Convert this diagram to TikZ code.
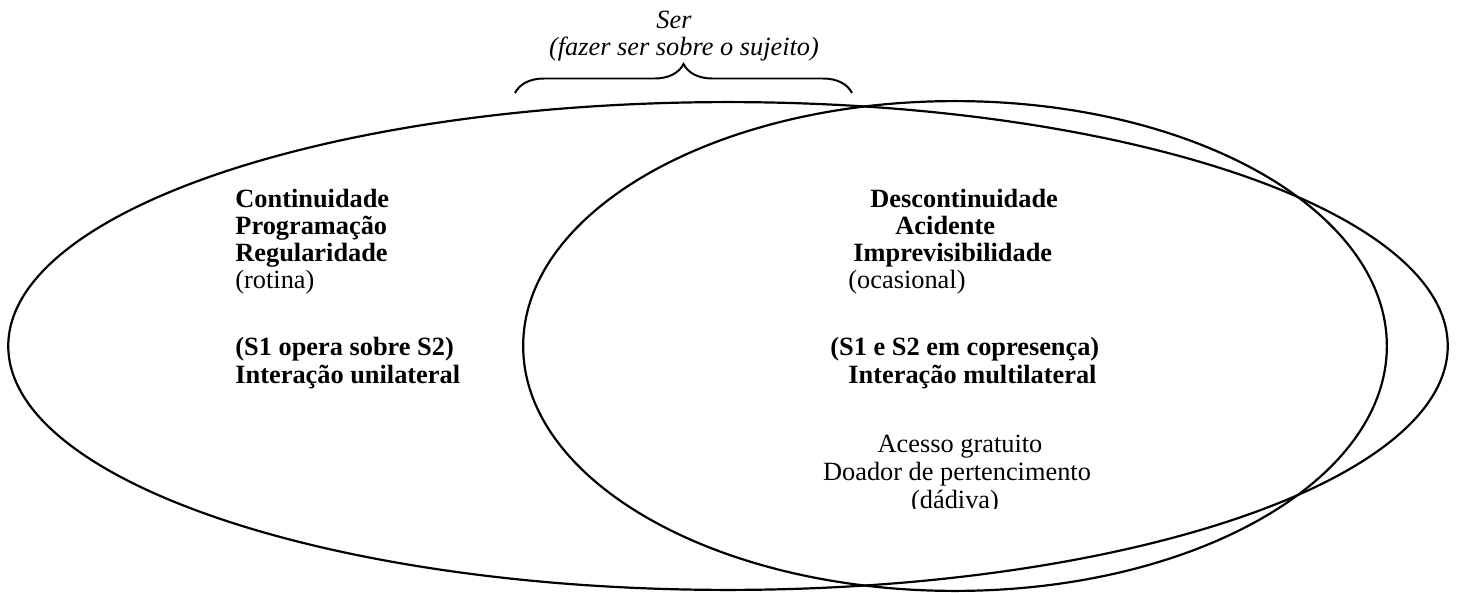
\documentclass[tikz,border=0pt]{standalone}
\usepackage{fontspec}
\setmainfont{Liberation Serif}
\usetikzlibrary{decorations.pathreplacing}

\begin{document}
\begin{tikzpicture}[x=0.016cm, y=-0.016cm,
    ring/.style={draw, line width=1pt},
    keyword/.style={font=\fontsize{12}{13}\selectfont\bfseries, anchor=base west, inner sep=0pt},
    remark/.style={font=\fontsize{12}{13}\selectfont, anchor=base west, inner sep=0pt},
    gift/.style={font=\fontsize{12}{13}\selectfont, anchor=base, inner sep=0pt},
    caption/.style={font=\fontsize{12}{13}\selectfont\itshape, anchor=base, inner sep=0pt},
    bracket/.style={decorate, decoration={brace, amplitude=0.464cm}, line width=0.9pt}
  ]
    \useasboundingbox (0,0) rectangle (1458,593);
    % the two sets
    \draw[ring] (728,346) ellipse [x radius=11.52cm, y radius=3.904cm];
    \draw[ring] (955,346) ellipse [x radius=6.912cm, y radius=3.92cm];
    % brace over the overlap
    \coordinate (bl) at (515,93);
    \coordinate (br) at (852,93);
    \draw[bracket] (bl) -- (br);
    \node[caption] (ser) at (674,29) {Ser};
    \node[caption] (fazer) at (684,56) {(fazer ser sobre o sujeito)};
    % left set
    \node[keyword] (cont) at (235,207) {Continuidade};
    \node[keyword] (prog) at (235,234) {Programação};
    \node[keyword] (regu) at (235,261) {Regularidade};
    \node[remark]  (roti) at (235,288) {(rotina)};
    \node[keyword] (oper) at (235,355) {(S1 opera sobre S2)};
    \node[keyword] (unil) at (235,383) {Interação unilateral};
    % right set
    \node[keyword] (desc) at (870,207) {Descontinuidade};
    \node[keyword] (acid) at (895,234) {Acidente};
    \node[keyword] (impr) at (853,261) {Imprevisibilidade};
    \node[remark]  (ocas) at (848,288) {(ocasional)};
    \node[keyword] (copr) at (830,355) {(S1 e S2 em copresença)};
    \node[keyword] (mult) at (848,383) {Interação multilateral};
    \node[gift] (aces) at (960,452) {Acesso gratuito};
    \node[gift] (doad) at (957,480) {Doador de pertencimento};
    \begin{scope}
      \clip (800,485) rectangle (1100,508);
      \node[gift] (dadi) at (955,508) {(dádiva)};
    \end{scope}
\end{tikzpicture}
\end{document}
